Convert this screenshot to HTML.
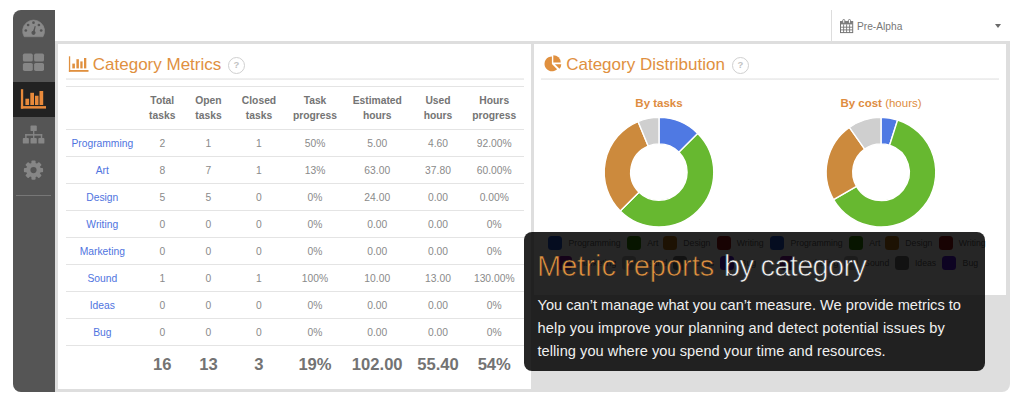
<!DOCTYPE html>
<html><head><meta charset="utf-8"><title>Metric reports</title>
<style>
*{box-sizing:border-box;margin:0;padding:0}
html,body{width:1024px;height:407px;background:#fff;overflow:hidden;font-family:"Liberation Sans",sans-serif}
#app{position:absolute;left:13px;top:10px;width:997px;height:382px;background:linear-gradient(#fff 0,#fff 31px,#dedede 31px,#dedede 100%);border-radius:8px;overflow:hidden}
#side{position:absolute;left:0;top:0;width:42px;height:382px;background:#555}
#top{position:absolute;left:42px;top:0;width:955px;height:31px;background:#fff}
#sel{position:absolute;left:776px;top:0;width:1px;height:31px;background:#ddd}
.act{position:absolute;left:0;top:71.6px;width:42px;height:35.4px;background:#222}
.div{position:absolute;left:3px;top:185px;width:35px;height:1px;background:#777}
.p{position:absolute;background:#fff}
#p1{left:45px;top:34px;width:473px;height:345px}
#p2{left:521px;top:34px;width:472px;height:251px}
.hr{position:absolute;height:2px;background:linear-gradient(#f1f1f1,#ebebeb)}
h2{position:absolute;font-weight:normal;font-size:17px;color:#e0903f;white-space:nowrap;line-height:20px}
.q{position:absolute;width:17px;height:17px;border:1.8px solid #d0d0d0;border-radius:50%;color:#c2c2c2;font-size:9.5px;font-weight:bold;text-align:center;line-height:13.5px}
table{position:absolute;left:53px;top:76px;width:458px;border-collapse:collapse;table-layout:fixed;font-size:10.3px;color:#8a8a8a}
th{font-size:10.3px;color:#747474;font-weight:bold;line-height:15px;height:43px;border-top:1px solid #e4e4e4;border-bottom:1px solid #e4e4e4;text-align:center;vertical-align:middle}
td{height:27px;border-bottom:1px solid #e4e4e4;text-align:center;vertical-align:middle;padding:0;white-space:nowrap}
td.c{color:#4f74e0}
tr.t td{font-size:16.6px;font-weight:bold;color:#737373;border-bottom:none;height:38.5px}
.ct{position:absolute;font-size:11.5px;color:#de8c40;text-align:center;width:160px;white-space:nowrap}
#ov{position:absolute;left:511px;top:222px;width:461px;height:139px;background:rgba(0,0,0,0.85);border-radius:8px}
#ov h1{position:absolute;left:13px;top:16.2px;font-size:29px;font-weight:normal;color:#f2f2f2;white-space:nowrap;line-height:36px;-webkit-text-stroke:0.65px #252525}
#ov h1 span{position:absolute;top:0}
#ov h1 span.a{color:#e0913f}
#ov p{position:absolute;left:13.5px;top:61.5px;font-size:14.6px;line-height:23.3px;color:#f0f0f0;white-space:nowrap}
.sw{position:absolute;width:14px;height:14px;border-radius:3.5px}
.lt{position:absolute;font-size:8.7px;color:#666;white-space:nowrap;line-height:14px}
</style></head><body>
<div id="app">
<div id="side">
<div class="act"></div>
<div class="div"></div>
<svg style="position:absolute;left:0;top:0" width="42" height="200" viewBox="0 0 42 200">
<!-- dashboard -->
<path d="M11.2,26.75 A11,11 0 1 1 30,26.75 Z" fill="#8a8a8a" stroke="#8a8a8a" stroke-width="0.6" stroke-linejoin="round"/>
<g fill="#555"><circle cx="12.8" cy="20.5" r="1.35"/><circle cx="15.1" cy="15" r="1.35"/><circle cx="20.5" cy="12.7" r="1.35"/><circle cx="25.9" cy="15" r="1.35"/><circle cx="28.2" cy="20.5" r="1.35"/><circle cx="20.5" cy="22.8" r="2.1"/><path d="M19.6,22.5L21.7,15.9L22.7,16.2L21.4,23Z"/></g>
<!-- grid -->
<g fill="#868686"><rect x="9.9" y="43.6" width="9.9" height="8" rx="1.7"/><rect x="21.1" y="43.6" width="9.9" height="8" rx="1.7"/><rect x="9.9" y="52.9" width="9.9" height="8.1" rx="1.7"/><rect x="21.1" y="52.9" width="9.9" height="8.1" rx="1.7"/></g>
<!-- bar chart -->
<g fill="#e98a3b"><rect x="7.9" y="79.2" width="2.3" height="19.4"/><rect x="7.9" y="96.1" width="25.1" height="2.5"/><rect x="12.4" y="88.7" width="3.7" height="6.3"/><rect x="17.3" y="82.8" width="3.7" height="12.2"/><rect x="22" y="85.75" width="3.5" height="9.25"/><rect x="26.5" y="81" width="3.7" height="14"/></g>
<!-- sitemap -->
<g fill="#868686"><rect x="17.5" y="115.5" width="6.3" height="5.6" rx="0.9"/><rect x="9.8" y="128" width="6.1" height="5.6" rx="0.9"/><rect x="17.5" y="128" width="6.3" height="5.6" rx="0.9"/><rect x="25.3" y="128" width="6.1" height="5.6" rx="0.9"/><rect x="20.05" y="120" width="1.3" height="9"/><rect x="12.2" y="124.1" width="17" height="1.5"/><rect x="12.2" y="124.1" width="1.4" height="4.5"/><rect x="27.8" y="124.1" width="1.4" height="4.5"/></g>
<!-- cog -->
<g transform="translate(20.5,160.1)"><g fill="#868686"><circle r="7.4"/>
<g id="t"><rect x="-2.1" y="-9.6" width="4.2" height="19.2" rx="0.9"/></g><use href="#t" transform="rotate(45)"/><use href="#t" transform="rotate(90)"/><use href="#t" transform="rotate(135)"/></g><circle r="3.1" fill="#555"/></g>
</svg>
</div>
<div id="top"><div id="sel"></div>
<svg style="position:absolute;left:784.8px;top:8.6px" width="14" height="15" viewBox="0 0 14 15"><rect x="0.5" y="2.6" width="12.2" height="11" fill="#fff" stroke="#757575" stroke-width="1"/><rect x="0.5" y="2.6" width="12.2" height="2.8" fill="#7d7d7d"/><path d="M0.5,8.2H12.7M0.5,10.9H12.7M3.6,5.4V13.6M6.6,5.4V13.6M9.6,5.4V13.6" stroke="#757575" stroke-width="0.9" fill="none"/><rect x="2.7" y="0.5" width="2.1" height="3.8" rx="1" fill="#fff" stroke="#757575" stroke-width="0.9"/><rect x="8.4" y="0.5" width="2.1" height="3.8" rx="1" fill="#fff" stroke="#757575" stroke-width="0.9"/></svg>
<div style="position:absolute;left:802px;top:8.5px;font-size:10.2px;color:#777;line-height:15px">Pre-Alpha</div>
<div style="position:absolute;left:940.3px;top:13.5px;width:0;height:0;border-left:3.5px solid transparent;border-right:3.5px solid transparent;border-top:4px solid #6a6a6a"></div>
</div>
<div class="p" id="p1"></div>
<div class="p" id="p2"></div>
<!-- left title -->
<svg style="position:absolute;left:55px;top:45px" width="22" height="18" viewBox="0 0 22 18"><g fill="#e0903f"><rect x="0.9" y="1.3" width="1.3" height="15.5"/><rect x="0.9" y="15" width="19.6" height="1.8"/><rect x="4.3" y="8.6" width="2.6" height="4.8"/><rect x="8.4" y="4.2" width="2.5" height="9.2"/><rect x="12.3" y="6.4" width="2.3" height="7"/><rect x="16" y="3" width="2.3" height="10.4"/></g></svg>
<h2 style="left:79.8px;top:45px">Category Metrics</h2>
<div class="q" style="left:215px;top:46.6px">?</div>
<div class="hr" style="left:53px;top:68px;width:458px"></div>
<table>
<colgroup><col style="width:72.6px"><col style="width:47.4px"><col style="width:45px"><col style="width:56px"><col style="width:56px"><col style="width:68.5px"><col style="width:53px"><col style="width:59.5px"></colgroup>
<tr><th></th><th>Total<br>tasks</th><th>Open<br>tasks</th><th>Closed<br>tasks</th><th>Task<br>progress</th><th>Estimated<br>hours</th><th>Used<br>hours</th><th>Hours<br>progress</th></tr>
<tr><td class="c">Programming</td><td>2</td><td>1</td><td>1</td><td>50%</td><td>5.00</td><td>4.60</td><td>92.00%</td></tr>
<tr><td class="c">Art</td><td>8</td><td>7</td><td>1</td><td>13%</td><td>63.00</td><td>37.80</td><td>60.00%</td></tr>
<tr><td class="c">Design</td><td>5</td><td>5</td><td>0</td><td>0%</td><td>24.00</td><td>0.00</td><td>0.00%</td></tr>
<tr><td class="c">Writing</td><td>0</td><td>0</td><td>0</td><td>0%</td><td>0.00</td><td>0.00</td><td>0%</td></tr>
<tr><td class="c">Marketing</td><td>0</td><td>0</td><td>0</td><td>0%</td><td>0.00</td><td>0.00</td><td>0%</td></tr>
<tr><td class="c">Sound</td><td>1</td><td>0</td><td>1</td><td>100%</td><td>10.00</td><td>13.00</td><td>130.00%</td></tr>
<tr><td class="c">Ideas</td><td>0</td><td>0</td><td>0</td><td>0%</td><td>0.00</td><td>0.00</td><td>0%</td></tr>
<tr><td class="c">Bug</td><td>0</td><td>0</td><td>0</td><td>0%</td><td>0.00</td><td>0.00</td><td>0%</td></tr>
<tr class="t"><td></td><td>16</td><td>13</td><td>3</td><td>19%</td><td>102.00</td><td>55.40</td><td>54%</td></tr>
</table>
<!-- right title -->
<svg style="position:absolute;left:-13px;top:-10px" width="600" height="90" viewBox="0 0 600 90"><g fill="#e0903f"><path d="M551.9,63.9 L551.9,56.5 A7.4,7.4 0 1 0 557.13,69.13 Z"/><path d="M553.3,62.6 L553.3,55.2 A7.4,7.4 0 0 1 560.7,62.6 Z"/><path d="M554.9,64.2 L561.3,64.2 A6.4,6.4 0 0 1 559.43,68.73 Z"/></g></svg>
<h2 style="left:553.2px;top:45px">Category Distribution</h2>
<div class="q" style="left:718.8px;top:46.6px">?</div>
<div class="hr" style="left:528px;top:68px;width:458px"></div>
<div class="ct" style="left:566px;top:87.3px"><b>By tasks</b></div>
<div class="ct" style="left:788px;top:87.3px"><b>By cost</b> (hours)</div>
<svg style="position:absolute;left:-13px;top:-10px" width="1024" height="407" viewBox="0 0 1024 407"><path d="M659.00,117.40A54.8,54.8 0 0 1 697.75,133.45L679.01,152.19A28.3,28.3 0 0 0 659.00,143.90Z" fill="#4f79e3" stroke="#fff" stroke-width="1.4" stroke-linejoin="round"/><path d="M697.75,133.45A54.8,54.8 0 0 1 620.25,210.95L638.99,192.21A28.3,28.3 0 0 0 679.01,152.19Z" fill="#67b830" stroke="#fff" stroke-width="1.4" stroke-linejoin="round"/><path d="M620.25,210.95A54.8,54.8 0 0 1 638.03,121.57L648.17,146.05A28.3,28.3 0 0 0 638.99,192.21Z" fill="#cc8a3d" stroke="#fff" stroke-width="1.4" stroke-linejoin="round"/><path d="M638.03,121.57A54.8,54.8 0 0 1 659.00,117.40L659.00,143.90A28.3,28.3 0 0 0 648.17,146.05Z" fill="#cfcfcf" stroke="#fff" stroke-width="1.4" stroke-linejoin="round"/><path d="M881.00,117.40A54.8,54.8 0 0 1 897.61,119.98L889.58,145.23A28.3,28.3 0 0 0 881.00,143.90Z" fill="#4f79e3" stroke="#fff" stroke-width="1.4" stroke-linejoin="round"/><path d="M897.61,119.98A54.8,54.8 0 1 1 833.54,199.60L856.49,186.35A28.3,28.3 0 1 0 889.58,145.23Z" fill="#67b830" stroke="#fff" stroke-width="1.4" stroke-linejoin="round"/><path d="M833.54,199.60A54.8,54.8 0 0 1 849.34,127.47L864.65,149.10A28.3,28.3 0 0 0 856.49,186.35Z" fill="#cc8a3d" stroke="#fff" stroke-width="1.4" stroke-linejoin="round"/><path d="M849.34,127.47A54.8,54.8 0 0 1 881.00,117.40L881.00,143.90A28.3,28.3 0 0 0 864.65,149.10Z" fill="#cfcfcf" stroke="#fff" stroke-width="1.4" stroke-linejoin="round"/></svg>
<!-- legend -->
<i class="sw" style="left:535.2px;top:226.4px;background:#2456d8"></i><span class="lt" style="left:555.5px;top:226.4px">Programming</span><i class="sw" style="left:614.0px;top:226.4px;background:#2f8f00"></i><span class="lt" style="left:634.3px;top:226.4px">Art</span><i class="sw" style="left:650.0px;top:226.4px;background:#c47a14"></i><span class="lt" style="left:670.3px;top:226.4px">Design</span><i class="sw" style="left:703.5px;top:226.4px;background:#a01818"></i><span class="lt" style="left:723.8px;top:226.4px">Writing</span><i class="sw" style="left:544.8px;top:245.8px;background:#8a1aa8"></i><span class="lt" style="left:565.1px;top:245.8px">Marketing</span><i class="sw" style="left:608.8px;top:245.8px;background:#bbb"></i><span class="lt" style="left:629.1px;top:245.8px">Sound</span><i class="sw" style="left:659.6px;top:245.8px;background:#777"></i><span class="lt" style="left:679.9px;top:245.8px">Ideas</span><i class="sw" style="left:707.3px;top:245.8px;background:#5a14e0"></i><span class="lt" style="left:727.6px;top:245.8px">Bug</span><i class="sw" style="left:757.2px;top:226.4px;background:#2456d8"></i><span class="lt" style="left:777.5px;top:226.4px">Programming</span><i class="sw" style="left:836.0px;top:226.4px;background:#2f8f00"></i><span class="lt" style="left:856.3px;top:226.4px">Art</span><i class="sw" style="left:872.0px;top:226.4px;background:#c47a14"></i><span class="lt" style="left:892.3px;top:226.4px">Design</span><i class="sw" style="left:925.5px;top:226.4px;background:#a01818"></i><span class="lt" style="left:945.8px;top:226.4px">Writing</span><i class="sw" style="left:766.8px;top:245.8px;background:#8a1aa8"></i><span class="lt" style="left:787.1px;top:245.8px">Marketing</span><i class="sw" style="left:830.8px;top:245.8px;background:#bbb"></i><span class="lt" style="left:851.1px;top:245.8px">Sound</span><i class="sw" style="left:881.6px;top:245.8px;background:#777"></i><span class="lt" style="left:901.9px;top:245.8px">Ideas</span><i class="sw" style="left:929.3px;top:245.8px;background:#5a14e0"></i><span class="lt" style="left:949.6px;top:245.8px">Bug</span>
<div id="ov"><h1><span class="a" style="left:0;letter-spacing:0px">Metric reports</span><span class="b" style="left:187px;letter-spacing:-0.7px">by category</span></h1>
<p><span style="letter-spacing:0px">You can’t manage what you can’t measure. We provide metrics to</span><br><span style="letter-spacing:0.137px">help you improve your planning and detect potential issues by</span><br><span style="letter-spacing:0.05px">telling you where you spend your time and resources.</span></p></div>
</div>
</body></html>
